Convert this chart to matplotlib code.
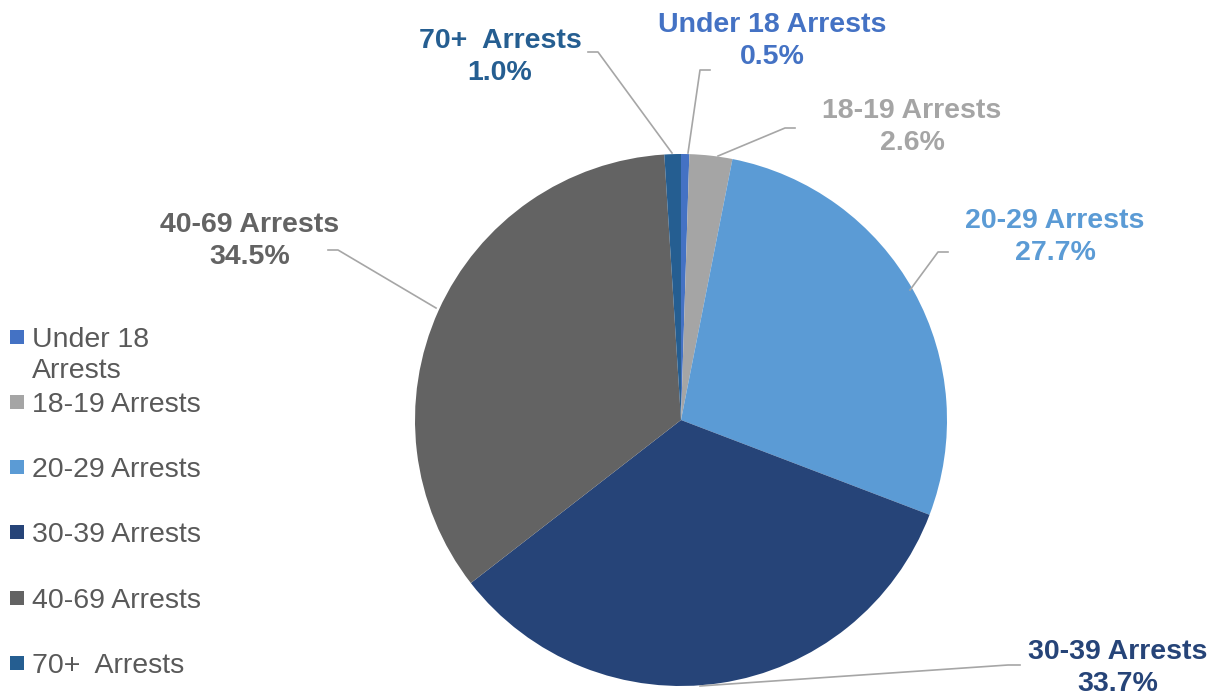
import matplotlib
matplotlib.use("Agg")
import matplotlib.pyplot as plt
from matplotlib.patches import Rectangle

plt.rcParams['font.family'] = ['Liberation Sans', 'DejaVu Sans']

categories = ["Under 18 Arrests", "18-19 Arrests", "20-29 Arrests",
              "30-39 Arrests", "40-69 Arrests", "70+  Arrests"]
legend_labels = ["Under 18\nArrests", "18-19 Arrests", "20-29 Arrests",
                 "30-39 Arrests", "40-69 Arrests", "70+  Arrests"]
values = [0.5, 2.6, 27.7, 33.7, 34.5, 1.0]
colors = ["#4472C4", "#A5A5A5", "#5B9BD5", "#264478", "#636363", "#255E91"]

W, H = 1221, 698
CX, CY, R = 681, 420, 266

fig = plt.figure(figsize=(W / 100, H / 100), dpi=100)
ax = fig.add_axes([0, 0, 1, 1])

def d(px, py):
    return (px - CX) / R, (CY - py) / R

ax.pie(values, colors=colors, startangle=90, counterclock=False,
       wedgeprops=dict(linewidth=0))
ax.set_xlim(-CX / R, (W - CX) / R)
ax.set_ylim(-(H - CY) / R, CY / R)
ax.set_aspect('auto')
ax.axis('off')

# label positions (pixels) and leader lines
label_pos = [(772, 41), (912, 127), (1055, 237), (1118, 668), (250, 241), (500, 57)]
leaders = [
    [(710, 70), (700, 70), (688, 153)],
    [(795, 128), (785, 128), (718, 156)],
    [(948, 252), (938, 252), (910, 290)],
    [(1020, 665), (1008, 665), (700, 686)],
    [(328, 250), (338, 250), (436, 308)],
    [(588, 52), (598, 52), (672, 153)],
]

for cat, v, col, (lx, ly), pts in zip(categories, values, colors, label_pos, leaders):
    xs, ys = zip(*[d(px, py) for px, py in pts])
    ax.plot(xs, ys, color="#A6A6A6", lw=1.2, zorder=1)
    tx, ty = d(lx, ly)
    ax.text(tx, ty, f"{cat}\n{v:.1f}%", ha='center', va='center', color=col,
            fontsize=20.5, fontweight='bold', linespacing=1.28)

# legend
leg_y = [337, 402, 467, 532, 598, 663]
for lab, col, y in zip(legend_labels, colors, leg_y):
    fig.patches.append(Rectangle((10 / W, 1 - (y + 7) / H), 14 / W, 14 / H,
                                 transform=fig.transFigure, facecolor=col,
                                 edgecolor='none'))
    fig.text(32 / W, 1 - (y - 10) / H, lab, ha='left', va='top',
             color="#595959", fontsize=20.5, linespacing=1.25)

fig.savefig("out.png", dpi=100)
